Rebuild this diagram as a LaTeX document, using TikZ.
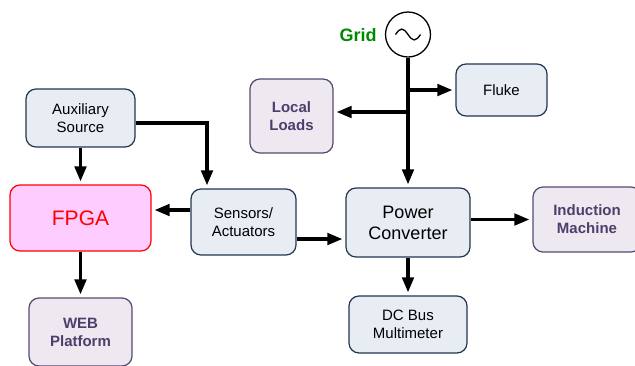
\documentclass[tikz,border=0pt]{standalone}
\usepackage{fontspec}
\setmainfont{Liberation Sans}
\usetikzlibrary{arrows.meta}
\definecolor{blokfill}{HTML}{E8EDF4}
\definecolor{blokline}{HTML}{22364F}
\definecolor{extfill}{HTML}{EEE9F1}
\definecolor{extline}{HTML}{574870}
\definecolor{exttext}{HTML}{4E3E6C}
\definecolor{gridgreen}{HTML}{008A00}
\definecolor{fpgafill}{HTML}{FFCCFF}

\begin{document}
\begin{tikzpicture}[x=1pt,y=-1pt,>={Triangle[length=15pt,width=11.5pt]}]
  \tikzstyle{blok}=[draw=blokline,fill=blokfill,line width=1.2pt,rounded corners=10pt,align=center,inner sep=0pt,font=\fontsize{15}{18}\selectfont]
  \tikzstyle{ext}=[blok,draw=extline,fill=extfill,text=exttext,font=\bfseries\fontsize{15}{18}\selectfont]
  \tikzstyle{link}=[->,line width=3.2pt,shorten >=3pt]
  \useasboundingbox (0,0) rectangle (635,365);
  \node[blok,minimum width=109pt,minimum height=58pt] (aux) at (80.5,118) {Auxiliary\\Source};
  \node[blok,draw=red,fill=fpgafill,text=red,font=\fontsize{21}{25}\selectfont,minimum width=141pt,minimum height=66pt] (fpga) at (80.5,218) {FPGA};
  \node[ext,minimum width=103pt,minimum height=68pt] (web) at (80.5,332) {WEB\\Platform};
  \node[blok,minimum width=105pt,minimum height=66pt] (sens) at (243.5,222) {Sensors/\\Actuators};
  \node[ext,minimum width=83pt,minimum height=74pt] (loads) at (291.5,116) {Local\\Loads};
  \node[draw,circle,line width=1.3pt,minimum size=45pt,inner sep=0pt] (grid) at (408,34.5) {};
  \draw[line width=1.3pt] (395.5,34.5) sin (401.75,29) cos (408,34.5) sin (414.25,40) cos (420.5,34.5);
  \node[text=gridgreen,font=\bfseries\fontsize{18}{21}\selectfont] (gridlbl) at (358,35) {Grid};
  \node[blok,minimum width=91pt,minimum height=52pt] (fluke) at (501.5,90) {Fluke};
  \node[blok,font=\fontsize{18}{21}\selectfont,minimum width=124pt,minimum height=69pt] (pc) at (408,222.5) {Power\\Converter};
  \node[ext,minimum width=108pt,minimum height=65pt] (im) at (587,219.5) {Induction\\Machine};
  \node[blok,minimum width=118pt,minimum height=57pt] (dc) at (408,324.5) {DC Bus\\Multimeter};
  \coordinate (as) at ([yshift=-5pt]aux.east);
  \coordinate (sa) at ([xshift=-36.5pt]sens.north);
  \coordinate (sf) at ([yshift=12pt]sens.west);
  \coordinate (sp) at ([yshift=-17pt]sens.east);
  \coordinate (ll) at ([yshift=4pt]loads.east);
  \draw[link] (aux) -- (fpga);
  \draw[link] (as) -| (sa);
  \draw[link] (sf) -- (sf -| fpga.east);
  \draw[link] (fpga) -- (web);
  \draw[link] (sp) -- (sp -| pc.west);
  \draw[link] (grid) -- (pc);
  \draw[link] (grid |- fluke) -- (fluke);
  \draw[link] (grid |- ll) -- (ll);
  \draw[link] (pc.east |- im) -- (im);
  \draw[link] (pc) -- (dc);
\end{tikzpicture}
\end{document}
